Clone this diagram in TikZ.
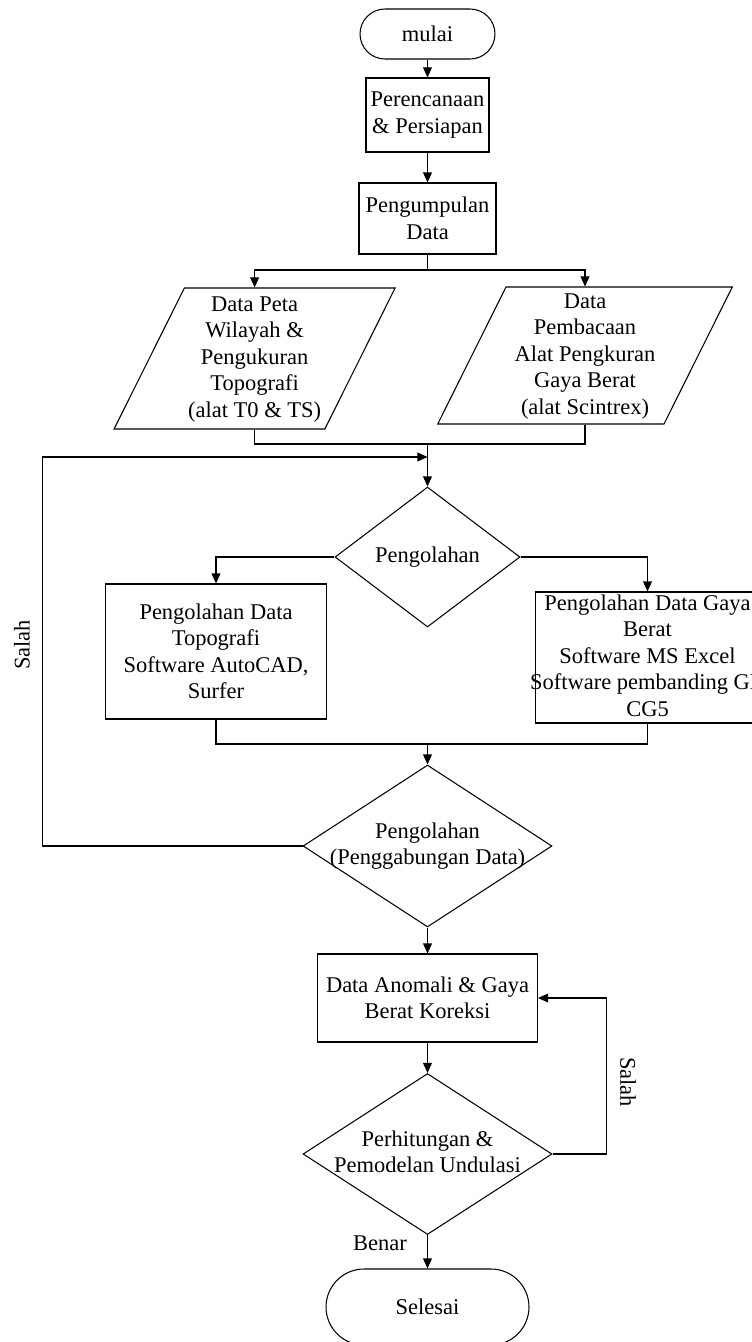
\documentclass[tikz,border=0pt]{standalone}
\usepackage{fontspec}
\setmainfont{Liberation Serif}
\usetikzlibrary{shapes.geometric,arrows.meta}
\newcommand{\ovl}[1]{\makebox[0pt]{\smash{\raisebox{-.25em}{\begin{tabular}{@{}c@{}}#1\end{tabular}}}}}
\begin{document}
\begin{tikzpicture}[x=0.02cm,y=-0.02cm,line width=0.6pt,
  every node/.style={font=\fontsize{12.8}{15.1}\selectfont},
  arr/.style={-{Triangle[length=5.7pt,width=5pt]}},
  ujung/.style={draw,inner sep=1pt},
  prosesbox/.style={draw,align=center,inner sep=1pt},
  datain/.style={draw,trapezium,trapezium left angle=63.5,trapezium right angle=116.5},
  keputusan/.style={draw,diamond,inner sep=1pt}]
  \useasboundingbox (0,0) rectangle (751,1342);
  \node[ujung,rounded corners=0.5cm,minimum width=2.7cm,minimum height=1cm] (mulai) at (427.5,34) {mulai};
  \node[prosesbox,minimum width=2.46cm,minimum height=1.48cm] (rencana) at (427.5,115) {Perencanaan\\\& Persiapan};
  \node[prosesbox,minimum width=2.74cm,minimum height=1.42cm] (kumpul) at (427.5,218.5) {Pengumpulan\\Data};
  \node[datain,inner xsep=1.405cm,inner ysep=1.41cm] (peta) at (254.6,358.5) {\ovl{Data Peta\\Wilayah \&\\Pengukuran\\Topografi\\(alat T0 \& TS)}};
  \node[datain,inner xsep=1.58cm,inner ysep=1.37cm] (bacaan) at (585,355.5) {\ovl{Data\\Pembacaan\\Alat Pengkuran\\Gaya Berat\\(alat Scintrex)}};
  \node[keputusan,minimum width=3.7cm,minimum height=2.8cm] (olah) at (427.5,557) {Pengolahan};
  \node[prosesbox,minimum width=4.42cm,minimum height=2.7cm] (topo) at (216,651.5) {Pengolahan Data\\Topografi\\Software AutoCAD,\\Surfer};
  \node[prosesbox,minimum width=4.5cm,minimum height=2.62cm] (gaya) at (647.5,657.5) {\ovl{Pengolahan Data Gaya\\Berat\\Software MS Excel\\Software pembanding GR\\CG5}};
  \node[keputusan,minimum width=4.98cm,minimum height=3.24cm] (gabung) at (427.5,846) {\ovl{Pengolahan\\(Penggabungan Data)}};
  \node[prosesbox,minimum width=4.4cm,minimum height=1.76cm] (anomali) at (427.5,998) {Data Anomali \& Gaya\\Berat Koreksi};
  \node[keputusan,minimum width=4.98cm,minimum height=3.22cm] (hitung) at (427.5,1154) {\ovl{Perhitungan \&\\Pemodelan Undulasi}};
  \node[ujung,rounded corners=0.76cm,minimum width=4.06cm,minimum height=1.52cm] (selesai) at (427.5,1307) {Selesai};
  \node[rotate=90] (salah1) at (22,645) {Salah};
  \node[rotate=-90] (salah2) at (628,1082) {Salah};
  \node (benar) at (380,1243) {Benar};
  \coordinate (pisah) at (427.5,270);
  \coordinate (temu1) at (427.5,444);
  \coordinate (balik) at (427.5,457);
  \coordinate (temu2) at (427.5,744);
  \draw[arr] (mulai) -- (rencana);
  \draw[arr] (rencana) -- (kumpul);
  \draw (kumpul) -- (pisah);
  \draw[arr] (pisah) -| (peta);
  \draw[arr] (pisah) -| (bacaan);
  \draw (peta) |- (temu1) -| (bacaan);
  \draw[arr] (temu1) -- (olah);
  \draw[arr] (olah.west) -| (topo);
  \draw[arr] (olah.east) -| (gaya);
  \draw (topo) |- (temu2) -| (gaya);
  \draw[arr] (temu2) -- (gabung);
  \draw[arr] (gabung.west) -- ++(-260,0) |- (balik);
  \draw[arr] (gabung) -- (anomali);
  \draw[arr] (anomali) -- (hitung);
  \draw[arr] (hitung.east) -- ++(54,0) |- (anomali);
  \draw[arr] (hitung) -- (selesai);
\end{tikzpicture}
\end{document}
